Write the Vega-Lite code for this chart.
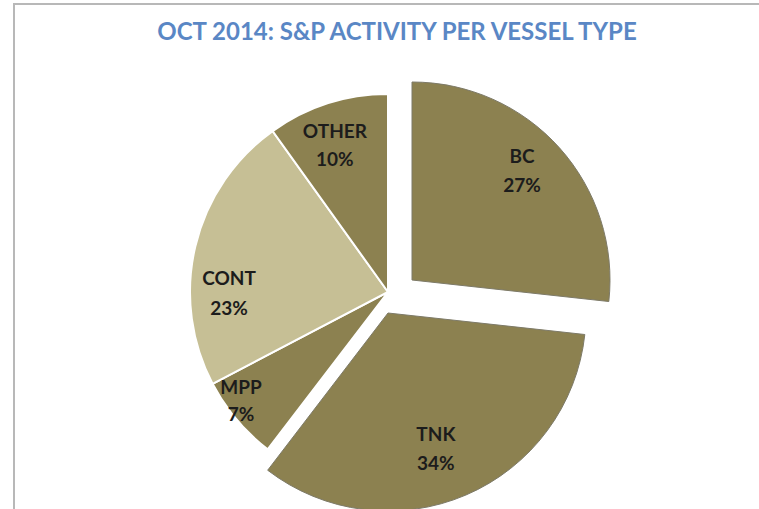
{
  "$schema": "https://vega.github.io/schema/vega-lite/v6.json",
  "width": 748,
  "height": 508,
  "autosize": "none",
  "padding": {"left": 14, "top": 4, "right": 0, "bottom": 0},
  "background": "white",
  "view": {"stroke": "#b8b8b8", "strokeWidth": 2},
  "title": {
    "text": "OCT 2014: S&P ACTIVITY PER VESSEL TYPE",
    "font": "Lato",
    "fontWeight": "bold",
    "fontSize": 24,
    "color": "#5A87C5",
    "anchor": "middle",
    "frame": "group",
    "baseline": "alphabetic",
    "offset": -39,
    "dx": 9,
    "dy": 21
  },
  "data": {
    "values": [
      {"idx": 1, "type": "BC", "value": 27},
      {"idx": 2, "type": "TNK", "value": 34},
      {"idx": 3, "type": "MPP", "value": 7},
      {"idx": 4, "type": "CONT", "value": 23},
      {"idx": 5, "type": "OTHER", "value": 10}
    ]
  },
  "transform": [{"calculate": "datum.type + '\\n' + datum.value + '%'", "as": "lbl"}],
  "encoding": {
    "theta": {"field": "value", "type": "quantitative", "stack": true},
    "order": {"field": "idx", "type": "quantitative"},
    "color": {
      "field": "type",
      "type": "nominal",
      "scale": {"domain": ["BC", "TNK", "MPP", "CONT", "OTHER"], "range": ["#8C8150", "#8C8150", "#8C8150", "#C6BF95", "#8C8150"]},
      "legend": null
    }
  },
  "layer": [
    {
      "mark": {"type": "arc", "radius": 198, "xOffset": 0, "yOffset": 34, "stroke": "white", "strokeWidth": 2},
      "encoding": {"opacity": {"condition": {"test": "datum.type==='MPP'||datum.type==='CONT'||datum.type==='OTHER'", "value": 1}, "value": 0}}
    },
    {
      "mark": {"type": "arc", "radius": 198, "xOffset": 24, "yOffset": 22, "stroke": "#7d7a68", "strokeWidth": 1},
      "encoding": {"opacity": {"condition": {"test": "datum.type==='BC'", "value": 1}, "value": 0}}
    },
    {
      "mark": {"type": "arc", "radius": 198, "xOffset": 0, "yOffset": 55, "stroke": "#7d7a68", "strokeWidth": 1},
      "encoding": {"opacity": {"condition": {"test": "datum.type==='TNK'", "value": 1}, "value": 0}}
    },
    {
      "mark": {"type": "text", "radius": 150, "xOffset": 22.4, "yOffset": -1.3, "font": "Lato", "fontWeight": "bold", "fontSize": 19, "lineBreak": "\n", "lineHeight": 29, "align": "center", "baseline": "middle"},
      "encoding": {"color": {"value": "#1c1c1c"}, "text": {"condition": {"test": "datum.type==='BC'", "field": "lbl"}, "value": ""}}
    },
    {
      "mark": {"type": "text", "radius": 140, "xOffset": -7.2, "yOffset": 47.8, "font": "Lato", "fontWeight": "bold", "fontSize": 19, "lineBreak": "\n", "lineHeight": 29, "align": "center", "baseline": "middle"},
      "encoding": {"color": {"value": "#1c1c1c"}, "text": {"condition": {"test": "datum.type==='TNK'", "field": "lbl"}, "value": ""}}
    },
    {
      "mark": {"type": "text", "radius": 180, "xOffset": -9.3, "yOffset": 14.3, "font": "Lato", "fontWeight": "bold", "fontSize": 19, "lineBreak": "\n", "lineHeight": 27, "align": "center", "baseline": "middle"},
      "encoding": {"color": {"value": "#1c1c1c"}, "text": {"condition": {"test": "datum.type==='MPP'", "field": "lbl"}, "value": ""}}
    },
    {
      "mark": {"type": "text", "radius": 150, "xOffset": -13.1, "yOffset": 55.3, "font": "Lato", "fontWeight": "bold", "fontSize": 19, "lineBreak": "\n", "lineHeight": 30, "align": "center", "baseline": "middle"},
      "encoding": {"color": {"value": "#1c1c1c"}, "text": {"condition": {"test": "datum.type==='CONT'", "field": "lbl"}, "value": ""}}
    },
    {
      "mark": {"type": "text", "radius": 150, "xOffset": -7.2, "yOffset": 17.3, "font": "Lato", "fontWeight": "bold", "fontSize": 19, "lineBreak": "\n", "lineHeight": 28, "align": "center", "baseline": "middle"},
      "encoding": {"color": {"value": "#1c1c1c"}, "text": {"condition": {"test": "datum.type==='OTHER'", "field": "lbl"}, "value": ""}}
    }
  ]
}
